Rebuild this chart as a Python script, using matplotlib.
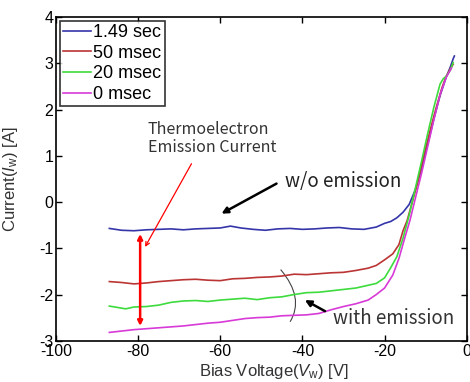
import matplotlib
matplotlib.use('Agg')
import matplotlib.pyplot as plt
from matplotlib.path import Path
from matplotlib.patches import PathPatch

plt.rcParams['font.family'] = ['Liberation Sans', 'DejaVu Sans']
plt.rcParams['mathtext.fontset'] = 'custom'
plt.rcParams['mathtext.rm'] = 'Liberation Sans'
plt.rcParams['mathtext.it'] = 'Liberation Sans:italic'

# values (bias voltage [V], current [A])
v_149 = [-87, -84, -81, -78, -75, -72, -69, -66, -63, -60, -57.5, -55, -52, -49, -46,
         -43, -40, -37, -34, -31, -28, -25, -22, -20, -18.5, -17, -15.5, -14,
         -12.5, -11, -9.5, -8, -6.5, -5, -4, -3.3, -3.0]
i_149 = [-0.57, -0.61, -0.62, -0.60, -0.59, -0.58, -0.60, -0.58, -0.57, -0.56, -0.52, -0.56,
         -0.59, -0.61, -0.58, -0.57, -0.59, -0.58, -0.56, -0.55, -0.58, -0.59, -0.54, -0.46,
         -0.42, -0.34, -0.22, -0.05, 0.27, 0.72, 1.25, 1.80, 2.30, 2.70, 2.92, 3.10, 3.16]

v_50 = [-87, -84, -81, -78, -75, -72, -69, -66, -63, -60, -57, -54, -51, -48, -45,
        -42, -39, -36, -33, -30, -27, -24, -22, -20, -18, -16.5, -15.5, -14.5, -13.5,
        -12, -10.5, -9, -7.5, -6, -5, -4, -3.3]
i_50 = [-1.72, -1.74, -1.77, -1.75, -1.72, -1.70, -1.68, -1.67, -1.69, -1.70, -1.66, -1.65,
        -1.63, -1.62, -1.60, -1.56, -1.57, -1.55, -1.53, -1.52, -1.48, -1.43, -1.37, -1.25,
        -1.12, -0.92, -0.62, -0.40, -0.08, 0.40, 0.98, 1.52, 2.02, 2.48, 2.72, 2.88, 2.98]

v_20 = [-87, -85, -83, -81, -78, -75, -72, -69, -66, -63, -60, -57, -54, -51, -48, -45,
        -42, -39, -36, -33, -30, -27, -24, -22, -20, -18.5, -17, -15.5, -14, -12.5,
        -11, -9.5, -8, -6.5, -5.7, -5, -4, -3.3]
i_20 = [-2.25, -2.28, -2.31, -2.27, -2.26, -2.23, -2.17, -2.14, -2.13, -2.15, -2.12, -2.10,
        -2.08, -2.11, -2.07, -2.05, -2.00, -1.96, -1.95, -1.92, -1.89, -1.86, -1.80, -1.76,
        -1.64, -1.42, -1.18, -0.78, -0.28, 0.30, 0.88, 1.48, 2.05, 2.55, 2.67, 2.72, 2.85, 3.02]

v_0 = [-87, -84, -81, -78, -75, -72, -69, -66, -63, -60, -57, -54, -51, -48, -45,
       -42, -39, -36, -33, -30, -27, -24, -22, -20, -18, -16.5, -15, -13.8, -12.2,
       -11, -9.5, -8, -6.5, -5, -3.7]
i_0 = [-2.82, -2.79, -2.76, -2.74, -2.72, -2.70, -2.68, -2.65, -2.62, -2.60, -2.56, -2.52,
       -2.50, -2.49, -2.46, -2.45, -2.44, -2.41, -2.33, -2.26, -2.20, -2.12, -2.00, -1.86,
       -1.58, -1.22, -0.75, -0.39, 0.19, 0.62, 1.20, 1.78, 2.32, 2.70, 2.90]

labels = ['1.49 sec', '50 msec', '20 msec', '0 msec']
colors = ['#3535aa', '#bb3535', '#3ddb3d', '#d83ad8']

fig = plt.figure(figsize=(4.7, 3.82), dpi=100)
ax = fig.add_axes([0.119, 0.108, 0.874, 0.847])

for vv, ii, lab, c in zip([v_149, v_50, v_20, v_0], [i_149, i_50, i_20, i_0], labels, colors):
    ax.plot(vv, ii, color=c, lw=1.2, label=lab)

ax.set_xlim(-100, 0)
ax.set_ylim(-3, 4)
ax.set_xticks([-100, -80, -60, -40, -20, 0])
ax.set_xticklabels(['-100', '-80', '-60', '-40', '-20', '0'])
ax.set_yticks([-3, -2, -1, 0, 1, 2, 3, 4])
ax.set_yticklabels(['-3', '-2', '-1', '0', '1', '2', '3', '4'])
ax.tick_params(direction='in', top=True, right=True, labelsize=11.5, length=4, width=1, pad=2)
for s in ax.spines.values():
    s.set_linewidth(1.2)

ax.set_xlabel('Bias Voltage($\\mathit{V}_{\\mathrm{w}}$) [V]', fontsize=12, color='#333333')
ax.xaxis.set_label_coords(0.53, -0.066)
ax.set_ylabel('Current($\\mathit{I}_{\\mathrm{w}}$) [A]', fontsize=12, color='#333333')
ax.yaxis.set_label_coords(-0.088, 0.5)

leg = ax.legend(loc='upper left', fontsize=13, frameon=True, fancybox=False, edgecolor='black',
                handlelength=1.55, handletextpad=0.15, borderpad=0.18, labelspacing=0.2,
                borderaxespad=0.2)
leg.get_frame().set_linewidth(1.2)

afont = ['Noto Sans CJK JP', 'DejaVu Sans']
ax.text(-77.6, 1.38, 'Thermoelectron\nEmission Current', fontsize=11.5, color='#333333',
        family=afont, va='center', linespacing=1.05)
ax.annotate('', xy=(-78.3, -0.97), xytext=(-67, 0.83),
            arrowprops=dict(arrowstyle='->', color='red', lw=0.9, shrinkA=0, shrinkB=0,
                            mutation_scale=7))
ax.annotate('', xy=(-79.5, -2.68), xytext=(-79.5, -0.69),
            arrowprops=dict(arrowstyle='<|-|>', color='red', lw=1.8, shrinkA=0, shrinkB=0,
                            mutation_scale=7))

ax.text(-44.2, 0.44, 'w/o emission', fontsize=13.5, color='#222222', family=afont, va='center')
ax.annotate('', xy=(-59.7, -0.25), xytext=(-46.3, 0.40),
            arrowprops=dict(arrowstyle='-|>', color='black', lw=1.8, shrinkA=0, shrinkB=0,
                            mutation_scale=9))

ax.text(-32.6, -2.51, 'with emission', fontsize=13.5, color='#333333', family=afont, va='center')
ax.annotate('', xy=(-39.4, -2.12), xytext=(-34.5, -2.36),
            arrowprops=dict(arrowstyle='-|>', color='black', lw=1.8, shrinkA=0, shrinkB=0,
                            mutation_scale=9))

# curved bracket across the three emission curves
arc = Path([(-45.3, -1.46), (-39.45, -2.075), (-43.0, -2.59)],
           [Path.MOVETO, Path.CURVE3, Path.CURVE3])
ax.add_patch(PathPatch(arc, fill=False, edgecolor='#444444', lw=0.8))

plt.savefig('out.png', dpi=100)
